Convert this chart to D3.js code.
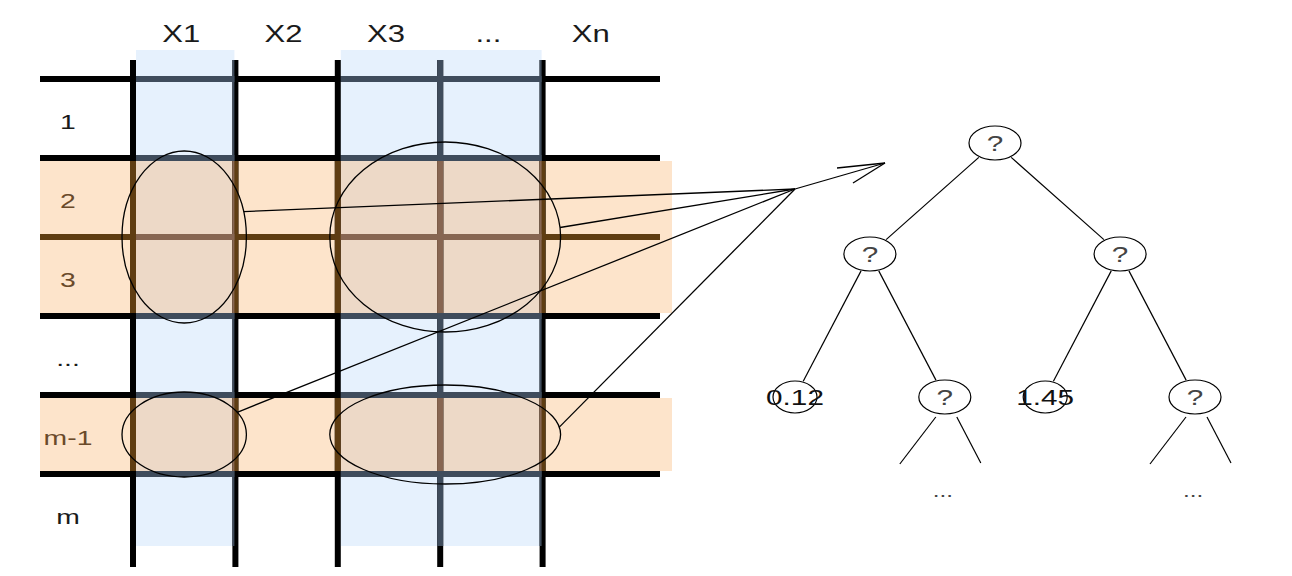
<!DOCTYPE html>
<html><head><meta charset="utf-8">
<script src="https://cdn.jsdelivr.net/npm/d3@7"></script>
<style>body{margin:0;background:#fff} svg{display:block}</style>
</head><body>
<svg id="c" width="1292" height="576"></svg>
<script>
// ---------- data ----------
const columns = ["X1", "X2", "X3", "...", "Xn"];
const rows = ["1", "2", "3", "...", "m-1", "m"];
const sampledCols = [["X1"], ["X3", "..."]];
const sampledRows = [["2", "3"], ["m-1"]];
const samples = [
  { cols: ["X1"], rows: ["2", "3"] },
  { cols: ["X3", "..."], rows: ["2", "3"] },
  { cols: ["X1"], rows: ["m-1"] },
  { cols: ["X3", "..."], rows: ["m-1"] }
];
const treeData = {
  name: "?", children: [
    { name: "?", children: [{ name: "0.12" }, { name: "?", more: true }] },
    { name: "?", children: [{ name: "1.45" }, { name: "?", more: true }] }
  ]
};

// ---------- styles / layout ----------
const C = {
  blue: "#e6f1fd", orange: "#fde4cb", both: "#edd9c7",
  line: "#000", lineBlue: "#3f4c5c", lineOrange: "#5f3d12", lineBoth: "#876652",
  labelOrange: "#6a4a2a"
};
const ellipsePad = [[11, 7], [13, 16], [11, 3], [13, 10]];
const ellipseShift = [0, 5, 0, 5];
const exitAngle = [0.3, 0.1, 0.55, 0.15];
const STRETCH = 1.35;

const svg = d3.select("#c");
const x = d3.scaleBand().domain(columns).range([133, 645]);
const y = d3.scaleBand().domain(rows).range([79, 553]);
const font = "'Liberation Sans', Arial, sans-serif";
const defs = svg.append("defs");

// band rectangles
const blueRects = sampledCols.map(cs => ({
  x0: x(cs[0]) + 3, x1: x(cs[cs.length - 1]) + x.bandwidth() - 1, y0: 50, y1: 546
}));
const orangeRects = sampledRows.map(rs => ({
  x0: 40, x1: 672, y0: y(rs[0]) + 3, y1: y(rs[rs.length - 1]) + y.bandwidth() - 3
}));
const bothRects = [];
blueRects.forEach(b => orangeRects.forEach(o => bothRects.push({
  x0: Math.max(b.x0, o.x0), x1: Math.min(b.x1, o.x1),
  y0: Math.max(b.y0, o.y0), y1: Math.min(b.y1, o.y1)
})));

function rects(sel, data, fill) {
  sel.selectAll(null).data(data).join("rect")
    .attr("x", d => d.x0).attr("y", d => d.y0)
    .attr("width", d => d.x1 - d.x0).attr("height", d => d.y1 - d.y0)
    .attr("fill", fill);
}
function clip(id, data) {
  const cp = defs.append("clipPath").attr("id", id);
  rects(cp, data, "#000");
}
clip("cBlue", blueRects); clip("cOrange", orangeRects); clip("cBoth", bothRects);

const bands = svg.append("g");
rects(bands, blueRects, C.blue);
rects(bands, orangeRects, C.orange);
rects(bands, bothRects, C.both);

function grid(color, clipId) {
  const g = svg.append("g");
  if (clipId) g.attr("clip-path", `url(#${clipId})`);
  g.selectAll(null).data(rows).join("line")
    .attr("x1", 40).attr("x2", 660)
    .attr("y1", d => y(d)).attr("y2", d => y(d))
    .attr("stroke", color).attr("stroke-width", 6);
  g.selectAll(null).data(columns).join("line")
    .attr("x1", d => x(d)).attr("x2", d => x(d))
    .attr("y1", 60).attr("y2", 567)
    .attr("stroke", color).attr("stroke-width", 6);
}
grid(C.line);
grid(C.lineBlue, "cBlue");
grid(C.lineOrange, "cOrange");
grid(C.lineBoth, "cBoth");

// labels (source image is horizontally stretched)
function stretchedText(sel, cx, by) {
  return sel.attr("transform", (d, i) => `translate(${cx(d, i)},${by(d, i)}) scale(${STRETCH},1)`)
    .attr("text-anchor", "middle").attr("font-family", font);
}
stretchedText(svg.append("g").selectAll("text").data(columns).join("text"),
  d => x(d) + x.bandwidth() / 2 - 3, () => 42)
  .attr("font-size", 23).attr("fill", "#1a1a1a").text(d => d);
const inOrange = new Set(sampledRows.flat());
stretchedText(svg.append("g").selectAll("text").data(rows).join("text"),
  () => 68, d => y(d) + y.bandwidth() / 2 + 10)
  .attr("font-size", 21)
  .attr("fill", d => inOrange.has(d) ? C.labelOrange : "#1a1a1a").text(d => d);

// sample ellipses
const ell = samples.map((s, i) => {
  const a = x(s.cols[0]), b = x(s.cols[s.cols.length - 1]) + x.bandwidth();
  const t = y(s.rows[0]), u = y(s.rows[s.rows.length - 1]) + y.bandwidth();
  return { cx: (a + b) / 2 + ellipseShift[i], cy: (t + u) / 2,
           rx: (b - a) / 2 + ellipsePad[i][0], ry: (u - t) / 2 + ellipsePad[i][1] };
});
svg.append("g").selectAll("ellipse").data(ell).join("ellipse")
  .attr("cx", d => d.cx).attr("cy", d => d.cy).attr("rx", d => d.rx).attr("ry", d => d.ry)
  .attr("fill", "none").attr("stroke", "#000").attr("stroke-width", 1.3);

// tree layout
const root = d3.hierarchy(treeData);
d3.tree().nodeSize([1, 1]).separation((a, b) => a.parent === b.parent ? 1 : 0.67)(root);
const nodes = root.descendants();
const tx = d3.scaleLinear().domain(d3.extent(nodes, d => d.x)).range([795, 1195]);
const ty = d3.scaleLinear().domain([0, 1, 2]).range([143, 254, 397]);
nodes.forEach(n => {
  n.px = tx(n.x); n.py = ty(n.depth);
  const isQ = n.data.name === "?";
  n.rx = isQ ? 26 : 22; n.ry = isQ ? 17 : 16;
});

// connectors to tree
const J = { x: 795, y: 189 };
const tip = { x: 885, y: 163 };
const lines = svg.append("g").attr("stroke", "#000").attr("stroke-width", 1.3).attr("fill", "none");
lines.selectAll(null).data(ell).join("line")
  .attr("x1", (d, i) => d.cx + d.rx * Math.cos(exitAngle[i]))
  .attr("y1", (d, i) => d.cy - d.ry * Math.sin(exitAngle[i]))
  .attr("x2", J.x).attr("y2", J.y);
lines.append("line").attr("x1", J.x).attr("y1", J.y).attr("x2", tip.x).attr("y2", tip.y);
lines.append("line").attr("x1", tip.x - 48).attr("y1", tip.y + 5).attr("x2", tip.x).attr("y2", tip.y);
lines.append("line").attr("x1", tip.x - 32).attr("y1", tip.y + 20).attr("x2", tip.x).attr("y2", tip.y);

// tree edges (trimmed to ellipse borders)
const tg = svg.append("g");
function trim(n, dx, dy) { return 1 / Math.sqrt((dx / n.rx) ** 2 + (dy / n.ry) ** 2); }
tg.selectAll("line.edge").data(root.links()).join("line").attr("class", "edge")
  .each(function (l) {
    const dx = l.target.px - l.source.px, dy = l.target.py - l.source.py;
    const ts = trim(l.source, dx, dy) * 1.05, tt = trim(l.target, dx, dy) * 1.05;
    d3.select(this)
      .attr("x1", l.source.px + dx * ts).attr("y1", l.source.py + dy * ts)
      .attr("x2", l.target.px - dx * tt).attr("y2", l.target.py - dy * tt);
  })
  .attr("stroke", "#000").attr("stroke-width", 1.2);

// stubs for unexpanded subtrees
const more = nodes.filter(n => n.data.more);
more.forEach(n => {
  tg.append("line").attr("x1", n.px - 9).attr("y1", n.py + 20).attr("x2", n.px - 45).attr("y2", n.py + 67)
    .attr("stroke", "#000").attr("stroke-width", 1.2);
  tg.append("line").attr("x1", n.px + 12).attr("y1", n.py + 20).attr("x2", n.px + 36).attr("y2", n.py + 66)
    .attr("stroke", "#000").attr("stroke-width", 1.2);
  tg.append("text").attr("transform", `translate(${n.px - 2},${n.py + 100}) scale(${STRETCH},1)`)
    .attr("text-anchor", "middle")
    .attr("font-family", font).attr("font-size", 18).attr("fill", "#444").text("...");
});

// nodes
const ng = tg.selectAll("g.node").data(nodes).join("g").attr("class", "node")
  .attr("transform", d => `translate(${d.px},${d.py})`);
ng.append("ellipse").attr("rx", d => d.rx).attr("ry", d => d.ry)
  .attr("fill", "none").attr("stroke", "#000").attr("stroke-width", 1.2);
ng.append("text").attr("text-anchor", "middle").attr("transform", `translate(0,8) scale(${STRETCH},1)`)
  .attr("font-family", font).attr("font-size", 22)
  .attr("fill", d => d.data.name === "?" ? "#444" : "#111").text(d => d.data.name);
</script>
</body></html>
